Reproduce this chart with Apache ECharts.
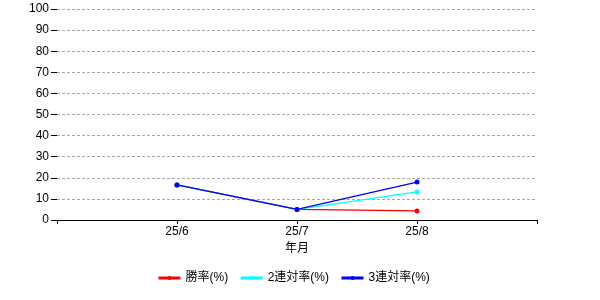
<!DOCTYPE html>
<html><head><meta charset="utf-8">
<script src="https://cdn.jsdelivr.net/npm/echarts@6/dist/echarts.min.js"></script>
<style>html,body{margin:0;padding:0;background:#fff}#c{width:600px;height:300px}</style>
</head><body><div id="c"></div>
<script>
const categories = ['25/6', '25/7', '25/8'];
const winRate = [16.6, 5.0, 4.3];
const top2Rate = [16.6, 5.0, 13.3];
const top3Rate = [16.6, 5.0, 18.0];
const seriesNames = ['勝率(%)', '2連対率(%)', '3連対率(%)'];
const colors = ['#ff0000', '#00ffff', '#0000ff'];
const xName = '年月';

const font = '"Liberation Sans", "Noto Sans CJK JP", sans-serif';
function toPts(arr){ return arr.map((v,i)=>[i+1, v]); }
const all = [winRate, top2Rate, top3Rate];
const chart = echarts.init(document.getElementById('c'), null, {renderer:'canvas'});
chart.setOption({
  animation:false,
  textStyle:{fontFamily:font, color:'#000', fontSize:12},
  grid:{left:57, right:63, top:9, bottom:80},
  legend:{
    top:267, left:152, itemWidth:22, itemHeight:5, itemGap:11,
    lineStyle:{width:3},
    textStyle:{fontFamily:font, fontSize:12, color:'#000'},
    data: seriesNames
  },
  xAxis:{
    type:'value', min:0, max:4, interval:1,
    name:xName, nameLocation:'middle', nameGap:22,
    nameTextStyle:{fontFamily:font, fontSize:12, color:'#000'},
    axisLine:{show:true, lineStyle:{color:'#000', width:1}},
    axisTick:{show:true, length:4, lineStyle:{color:'#000'}},
    axisLabel:{color:'#000', fontSize:12, margin:6,
      formatter:(v)=> (v>=1 && v<=categories.length) ? categories[v-1] : ''},
    splitLine:{show:false}
  },
  yAxis:{
    type:'value', min:0, max:100, interval:10,
    axisLine:{show:false},
    axisTick:{show:true, length:6, lineStyle:{color:'#000'}},
    axisLabel:{color:'#000', fontSize:12, margin:8},
    splitLine:{show:true, lineStyle:{color:'#a8a8a8', type:[3,2], width:1}}
  },
  series: all.map((d,i)=>({
    name: seriesNames[i], type:'line', data: toPts(d),
    symbol:'circle', symbolSize:5,
    itemStyle:{color:colors[i]}, lineStyle:{color:colors[i], width:1.3}
  }))
});
</script></body></html>
